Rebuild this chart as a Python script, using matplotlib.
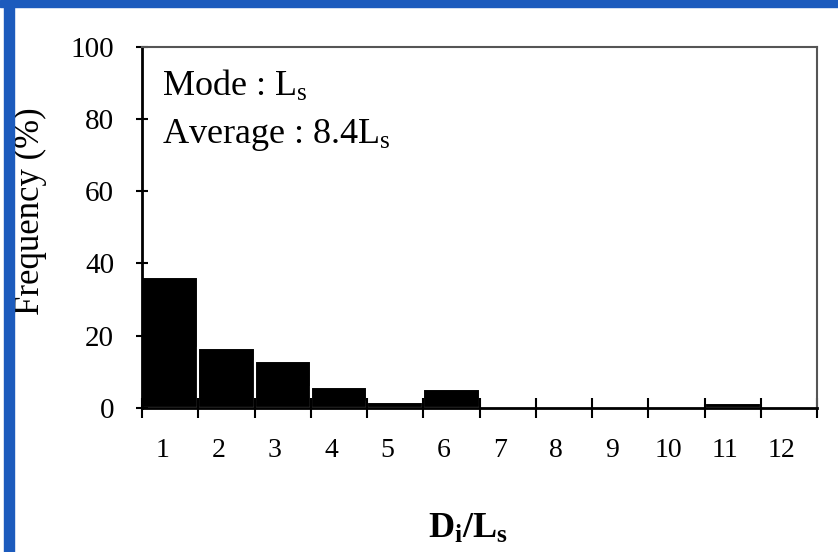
"""Histogram of D_i / L_s ratios"""

import numpy as np
import matplotlib
matplotlib.use("Agg")
import matplotlib.pyplot as plt
from matplotlib.patches import Rectangle

# bins 1..12, frequency in %
bin_labels = ["1", "2", "3", "4", "5", "6", "7", "8", "9", "10", "11", "12"]
frequency = [36.1, 16.6, 12.8, 5.7, 1.7, 5.1, 0, 0, 0, 0, 1.4, 0]
y_ticks = [0, 20, 40, 60, 80, 100]

plt.rcParams['font.family'] = 'Liberation Serif'
plt.rcParams['mathtext.fontset'] = 'custom'
plt.rcParams['mathtext.rm'] = 'Liberation Serif'
plt.rcParams['mathtext.it'] = 'Liberation Serif:italic'
plt.rcParams['mathtext.bf'] = 'Liberation Serif:bold'


def main():
    W, H = 838, 552
    fig = plt.figure(figsize=(W / 100, H / 100), dpi=100)

    # blue frame on top and left side
    fig.patches.append(Rectangle((0, 1 - 7 / H), 1, 7 / H, transform=fig.transFigure,
                                 color='#1c5bbd', zorder=0))
    fig.patches.append(Rectangle((4 / W, 0), 10 / W, 1, transform=fig.transFigure,
                                 color='#1c5bbd', zorder=0))

    left, right, top, bottom = 142, 817, 46.7, 407.7
    ax = fig.add_axes([left / W, 1 - bottom / H, (right - left) / W, (bottom - top) / H])

    edges = np.arange(len(frequency))
    ax.bar(edges, frequency, width=1.0, align='edge', color='black',
           edgecolor='white', linewidth=1.5, zorder=1)

    ax.set_xlim(0, len(frequency))
    ax.set_ylim(0, 100)
    ax.set_yticks(y_ticks)
    ax.set_yticklabels([str(v) for v in y_ticks])

    # ticks at bin edges, labels under the bins
    ax.set_xticks(np.arange(len(frequency) + 1))
    ax.set_xticklabels([])
    ax.set_xticks(edges + 0.36, minor=True)
    ax.set_xticklabels(bin_labels, minor=True)

    ax.tick_params(axis='y', direction='inout', length=8, width=1.5,
                   labelsize=21, pad=16, colors='black')
    ax.tick_params(axis='x', which='major', direction='inout', length=14, width=1.5)
    ax.tick_params(axis='x', which='minor', length=0, labelsize=20, pad=22)

    for side in ['left', 'bottom']:
        ax.spines[side].set_linewidth(2)
        ax.spines[side].set_color('black')
    for side in ['top', 'right']:
        ax.spines[side].set_linewidth(1.5)
        ax.spines[side].set_color('#555555')

    ax.set_ylabel('Frequency (%)', fontsize=25)
    ax.yaxis.set_label_coords((47 - left) / (right - left), 0.545)
    ax.set_xlabel(r'$\mathbf{D_i/L_s}$', fontsize=26)
    ax.xaxis.set_label_coords((468 - left) / (right - left), -0.29)

    ax.text(0.03, 0.94, r'Mode : L$_\mathrm{s}$', transform=ax.transAxes,
            fontsize=26, va='top', ha='left')
    ax.text(0.03, 0.805, r'Average : 8.4L$_\mathrm{s}$', transform=ax.transAxes,
            fontsize=26, va='top', ha='left')

    fig.savefig('out.png', dpi=100)
    plt.close(fig)


if __name__ == "__main__":
    main()
